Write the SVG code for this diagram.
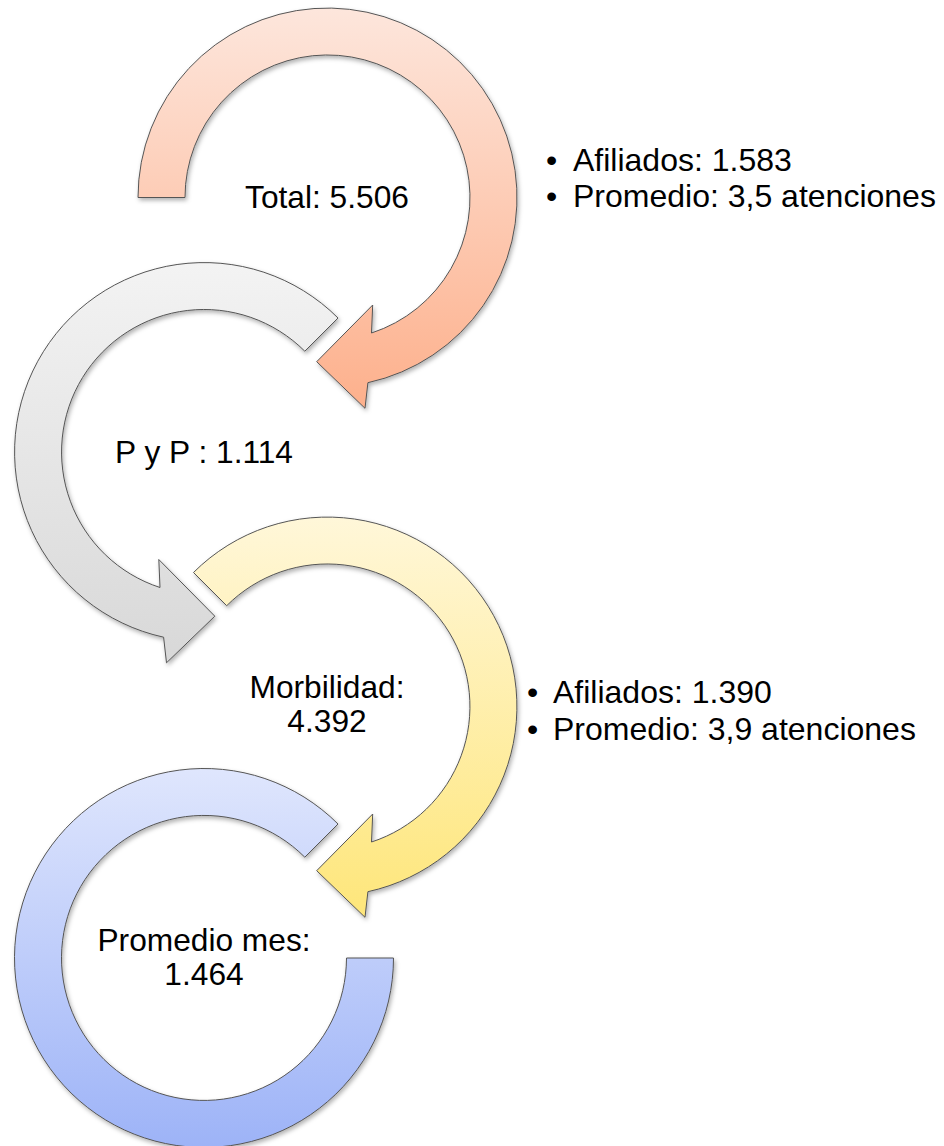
<svg xmlns="http://www.w3.org/2000/svg" width="944" height="1146" viewBox="0 0 944 1146">
<defs>
<linearGradient id="gOrange" x1="0" y1="0" x2="0" y2="1"><stop offset="0" stop-color="#fde6dc"/><stop offset="1" stop-color="#fdb08c"/></linearGradient>
<linearGradient id="gGray" x1="0" y1="0" x2="0" y2="1"><stop offset="0" stop-color="#f3f3f3"/><stop offset="1" stop-color="#d8d8d8"/></linearGradient>
<linearGradient id="gYellow" x1="0" y1="0" x2="0" y2="1"><stop offset="0" stop-color="#fff7d9"/><stop offset="1" stop-color="#fee67a"/></linearGradient>
<linearGradient id="gBlue" x1="0" y1="0" x2="0" y2="1"><stop offset="0" stop-color="#dfe6fd"/><stop offset="1" stop-color="#9db3f7"/></linearGradient>
<filter id="shadow" x="-10%" y="-10%" width="120%" height="120%"><feDropShadow dx="1.5" dy="2.5" stdDeviation="2" flood-color="#000" flood-opacity="0.3"/></filter>
</defs>
<style>
.arrow{stroke:#555;stroke-width:1;filter:url(#shadow)}
.lbl{font-family:"Liberation Sans",Arial,sans-serif;font-size:31.7px;fill:#000;text-anchor:middle}
.bul{font-family:"Liberation Sans",Arial,sans-serif;font-size:32px;fill:#000}
</style>
<g id="connectors"></g>
<g id="node-total">
<path class="arrow" fill="url(#gOrange)" d="M138,197.5 A189.5,189.5 0 1 1 367.9,382.7 L365,408.3 L316.7,361.7 L372.7,305 L371.5,333 A142.5,142.5 0 1 0 185,197.5 Z"/>
<text class="lbl" x="327" y="208">Total: 5.506</text>
</g>
<g id="node-pyp">
<path class="arrow" fill="url(#gGray)" d="M338,318 A189.5,189.5 0 1 0 163.6,637.2 L166.5,662.8 L214.8,616.2 L158.8,559.5 L160,587.5 A142.5,142.5 0 1 1 304.8,351.2 Z"/>
<text class="lbl" x="204" y="463">P y P : 1.114</text>
</g>
<g id="node-morbilidad">
<path class="arrow" fill="url(#gYellow)" d="M193.5,572.5 A189.5,189.5 0 1 1 367.9,891.7 L365,917.3 L316.7,870.7 L372.7,814 L371.5,842 A142.5,142.5 0 1 0 226.7,605.7 Z"/>
<text class="lbl" x="327" y="698">Morbilidad:</text>
<text class="lbl" x="327" y="732">4.392</text>
</g>
<g id="node-promedio">
<path class="arrow" fill="url(#gBlue)" d="M338,824 A189.5,189.5 0 1 0 393.5,958 L346.5,958 A142.5,142.5 0 1 1 304.8,857.2 Z"/>
<text class="lbl" x="204" y="951">Promedio mes:</text>
<text class="lbl" x="204" y="985">1.464</text>
</g>
<g id="notes-total">
<text class="bul" x="546" y="171">•</text><text class="bul" x="573" y="171">Afiliados: 1.583</text>
<text class="bul" x="546" y="207">•</text><text class="bul" x="573" y="207">Promedio: 3,5 atenciones</text>
</g>
<g id="notes-morbilidad">
<text class="bul" x="527" y="703">•</text><text class="bul" x="553" y="703">Afiliados: 1.390</text>
<text class="bul" x="527" y="740">•</text><text class="bul" x="553" y="740">Promedio: 3,9 atenciones</text>
</g>
</svg>
